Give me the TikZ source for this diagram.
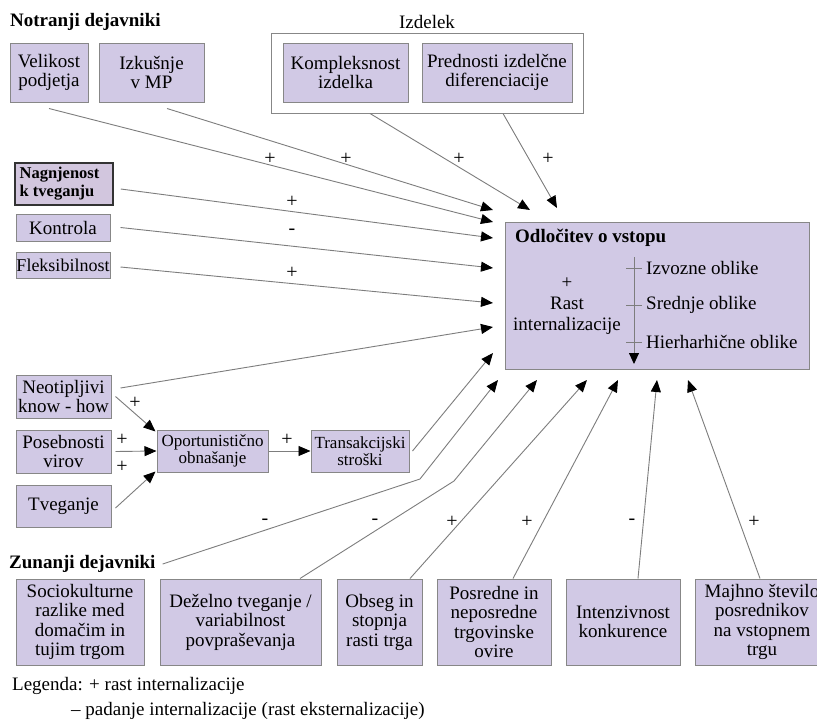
\documentclass[tikz,border=0pt]{standalone}
\usepackage{fontspec}
\setmainfont{Liberation Serif}
\usetikzlibrary{arrows.meta}
\definecolor{boxfill}{RGB}{209,201,229}
\definecolor{nagfill}{RGB}{210,198,222}
\definecolor{boxline}{RGB}{135,135,135}
\definecolor{wirecol}{RGB}{125,125,125}

\begin{document}
\begin{tikzpicture}[x=1pt,y=-1pt,
  box/.style={draw=boxline, fill=boxfill, line width=1pt, align=center, inner sep=0pt,
              font=\fontsize{19}{19.5}\selectfont},
  smallbox/.style={font=\fontsize{17}{17.5}\selectfont},
  heading/.style={anchor=west, inner sep=0pt, font=\fontsize{19}{20}\selectfont\bfseries},
  txt/.style={anchor=west, inner sep=0pt, font=\fontsize{19}{20}\selectfont},
  sgn/.style={inner sep=0pt, font=\fontsize{20}{20}\selectfont},
  wire/.style={draw=wirecol, line width=0.9pt},
  arr/.style={wire, -{Triangle[length=12pt,width=10pt,color=black]}},
]
\clip (0,0) rectangle (817,720);
\fill[white] (0,0) rectangle (817,720);

% ---------- internal factors ----------
\node[heading] (notr) at (10,22) {Notranji dejavniki};
\node[box, minimum width=78pt, minimum height=59pt] (vel) at (49,72.5) {Velikost\\podjetja};
\node[box, minimum width=105pt, minimum height=59pt] (izk) at (151.5,72.5) {Izkušnje\\v MP};

% product group
\node[draw=boxline, line width=1pt, minimum width=312pt, minimum height=80pt, inner sep=0pt] (izd) at (427,73) {};
\node[inner sep=0pt, font=\fontsize{19}{20}\selectfont] (izdt) at (427,22) {Izdelek};
\node[box, minimum width=125pt, minimum height=59pt] (kom) at (345.5,72.5) {Kompleksnost\\izdelka};
\node[box, minimum width=150pt, minimum height=59pt] (pre) at (497,72.5) {Prednosti izdelčne\\diferenciacije};

\node[box, fill=nagfill, draw=black!80, line width=1.5pt, align=left, minimum width=98pt, minimum height=42pt,
      font=\fontsize{16.5}{18}\selectfont\bfseries] (nag) at (64,184) {Nagnjenost\\k tveganju\hspace*{14pt}};
\node[box, minimum width=94pt, minimum height=27pt] (kon) at (63,227.5) {Kontrola};
\node[box, minimum width=94pt, minimum height=26pt, font=\fontsize{18}{18}\selectfont] (fle) at (63,265) {Fleksibilnost};

\node[box, minimum width=95pt, minimum height=43pt] (neo) at (63.5,396.5) {Neotipljivi\\know - how};
\node[box, minimum width=95pt, minimum height=43pt] (pos) at (63.5,451.5) {Posebnosti\\virov};
\node[box, minimum width=95pt, minimum height=42pt] (tve) at (63.5,506) {Tveganje};
\node[box, smallbox, minimum width=111pt, minimum height=42pt] (opo) at (212.5,451) {Oportunistično\\obnašanje};
\node[box, smallbox, minimum width=98pt, minimum height=42pt] (tra) at (360,451) {Transakcijski\\stroški};

% ---------- decision ----------
\node[box, minimum width=304pt, minimum height=147pt] (dec) at (657,295.5) {};
\node[heading] (dect) at (515,238) {Odločitev o vstopu};
\node[inner sep=0pt, align=center, font=\fontsize{19}{21}\selectfont] (rast) at (567,306) {+\\Rast\\internalizacije};
\coordinate (sTop) at (634,257);
\coordinate (sEnd) at (634,364);
\draw[arr, -{Triangle[length=11pt,width=10pt,color=black]}] (sTop) -- (sEnd);
\foreach \yy/\nm/\lab in {268/f1/Izvozne oblike, 305/f2/Srednje oblike, 342/f3/Hierharhične oblike}{
  \draw[wire] (626,\yy) -- (642,\yy);
  \node[txt] (\nm) at (646,\yy) {\lab};
}

% ---------- external factors ----------
\node[heading] (zun) at (9,564) {Zunanji dejavniki};
\node[box, minimum width=128pt, minimum height=86pt] (soc) at (80,622) {Sociokulturne\\razlike med\\domačim in\\tujim trgom};
\node[box, minimum width=161pt, minimum height=86pt] (dez) at (240.5,622) {Deželno tveganje /\\variabilnost\\povpraševanja};
\node[box, minimum width=85pt, minimum height=86pt] (obs) at (379.5,622) {Obseg in\\stopnja\\rasti trga};
\node[box, minimum width=114pt, minimum height=86pt] (posr) at (494,622) {Posredne in\\neposredne\\trgovinske\\ovire};
\node[box, minimum width=114pt, minimum height=86pt] (int) at (623,622) {Intenzivnost\\konkurence};
\node[box, minimum width=134pt, minimum height=86pt] (maj) at (762,622) {Majhno število\\posrednikov\\na vstopnem\\trgu};

% ---------- legend ----------
\node[txt] (leg1) at (12,686) {Legenda: + rast internalizacije};
\node[txt] (leg2) at (71,711) {– padanje internalizacije (rast eksternalizacije)};

% ---------- arrow targets round the decision box ----------
\coordinate (tIzk) at (493,210);
\coordinate (tVel) at (493,222);
\coordinate (tNag) at (493,238);
\coordinate (tKon) at (493,268);
\coordinate (tFle) at (493,303);
\coordinate (tNeo) at (493,327);
\coordinate (tTra) at (493,353);
\coordinate (tKom) at (530,210);
\coordinate (tPre) at (557,208);
\coordinate (tZun) at (498,380);
\coordinate (tDez) at (537,380);
\coordinate (tObs) at (587,380);
\coordinate (tPosr) at (618,380);
\coordinate (tInt) at (657,380);
\coordinate (tMaj) at (688,380);
\coordinate (bZun) at (420,479);
\coordinate (bDez) at (454,481);

% ---------- connectors ----------
\draw[arr] ([yshift=-6pt]vel.south) -- (tVel);
\draw[arr] ([xshift=15.5pt,yshift=-6pt]izk.south) -- (tIzk);
\draw[arr] ([xshift=-57pt]izd.south) -- (tKom);
\draw[arr] ([xshift=76pt]izd.south) -- (tPre);
\draw[arr] ([xshift=7pt,yshift=-5pt]nag.east) -- (tNag);
\draw[arr] ([xshift=10pt]kon.east) -- (tKon);
\draw[arr] ([xshift=10pt,yshift=-2pt]fle.east) -- (tFle);
\draw[arr] ([xshift=9pt,yshift=8.5pt]neo.east) -- (tNeo);
\draw[arr] ([xshift=3pt]tra.east) -- (tTra);

\draw[arr] ([xshift=4pt]neo.east) -- ([xshift=-1pt,yshift=-2pt]opo.north west);
\draw[arr] ([xshift=4pt]pos.east) -- (opo.west);
\draw[arr] ([xshift=4pt,yshift=-2pt]tve.east) -- ([xshift=-1pt,yshift=1pt]opo.south west);
\draw[arr] (opo.east) -- (tra.west);

\draw[arr] ([xshift=7pt]zun.east) -- (bZun) -- (tZun);
\draw[arr] ([xshift=59.5pt]dez.north) -- (bDez) -- (tDez);
\draw[arr] ([xshift=30.5pt]obs.north) -- (tObs);
\draw[arr] ([xshift=19pt]posr.north) -- (tPosr);
\draw[arr] ([xshift=15pt]int.north) -- (tInt);
\draw[arr] ([xshift=-2pt]maj.north) -- (tMaj);

% ---------- signs ----------
\foreach \xx/\yy/\s in {270/159/+, 346/159/+, 459/159/+, 548/159/+,
                        292/202/+, 292/232/-, 292/273/+,
                        135/403/+, 122/440/+, 122/467/+, 287/440/+,
                        265/522/-, 375/522/-, 452/522/+, 527/522/+, 632/522/-, 754/522/+}{
  \node[sgn] at (\xx,\yy) {\s};
}
\end{tikzpicture}
\end{document}
